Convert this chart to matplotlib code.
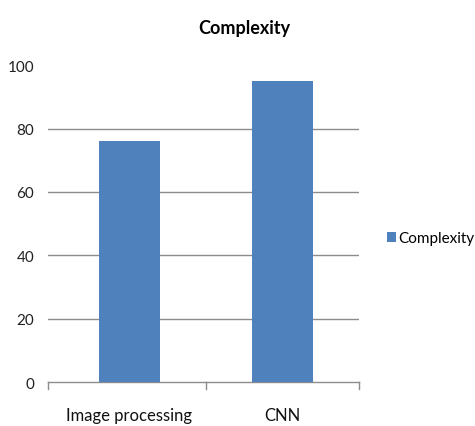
import matplotlib
matplotlib.use("Agg")
import matplotlib.pyplot as plt

categories = ["Image processing", "CNN"]
complexity = [76, 95]
y_ticks = [0, 20, 40, 60, 80, 100]

plt.rcParams['font.family'] = ['Lato', 'DejaVu Sans']

fig = plt.figure(figsize=(4.75, 4.27), dpi=100)
ax = fig.add_axes([0.101, 0.103, 0.655, 0.742])

bar_color = "#4F81BD"
x = range(len(categories))
ax.bar(x, complexity, width=0.4, color=bar_color, label="Complexity", zorder=3)

x_left, x_right = -0.53, 1.5
ax.set_xlim(x_left, x_right)
ax.set_ylim(0, 100)
ax.set_yticks(y_ticks)
ax.set_yticklabels([str(v) for v in y_ticks], fontsize=11, color="#222222")
ax.set_xticks(list(x))
ax.set_xticklabels(categories, fontsize=12, color="#111111")
ax.tick_params(axis="x", length=0, pad=18)
ax.tick_params(axis="y", length=0, pad=10)

for v in y_ticks[1:-1]:
    ax.axhline(v, color="#8C8C8C", lw=1.0, zorder=1)

for s in ["top", "right", "left"]:
    ax.spines[s].set_visible(False)
ax.spines["bottom"].set_color("#8C8C8C")
ax.spines["bottom"].set_linewidth(1.0)

# category boundary ticks below the axis
for b in [x_left, 0.5, x_right]:
    ax.plot([b, b], [0, -2.2], color="#8C8C8C", lw=1.0, clip_on=False)

ax.set_title("Complexity", fontsize=13, fontweight="bold", pad=23, x=0.63)

fig.legend(loc="center left", bbox_to_anchor=(0.785, 0.44), frameon=False,
           fontsize=11, handlelength=0.6, handleheight=0.6, handletextpad=0.15)

fig.savefig("out.png", dpi=100)
